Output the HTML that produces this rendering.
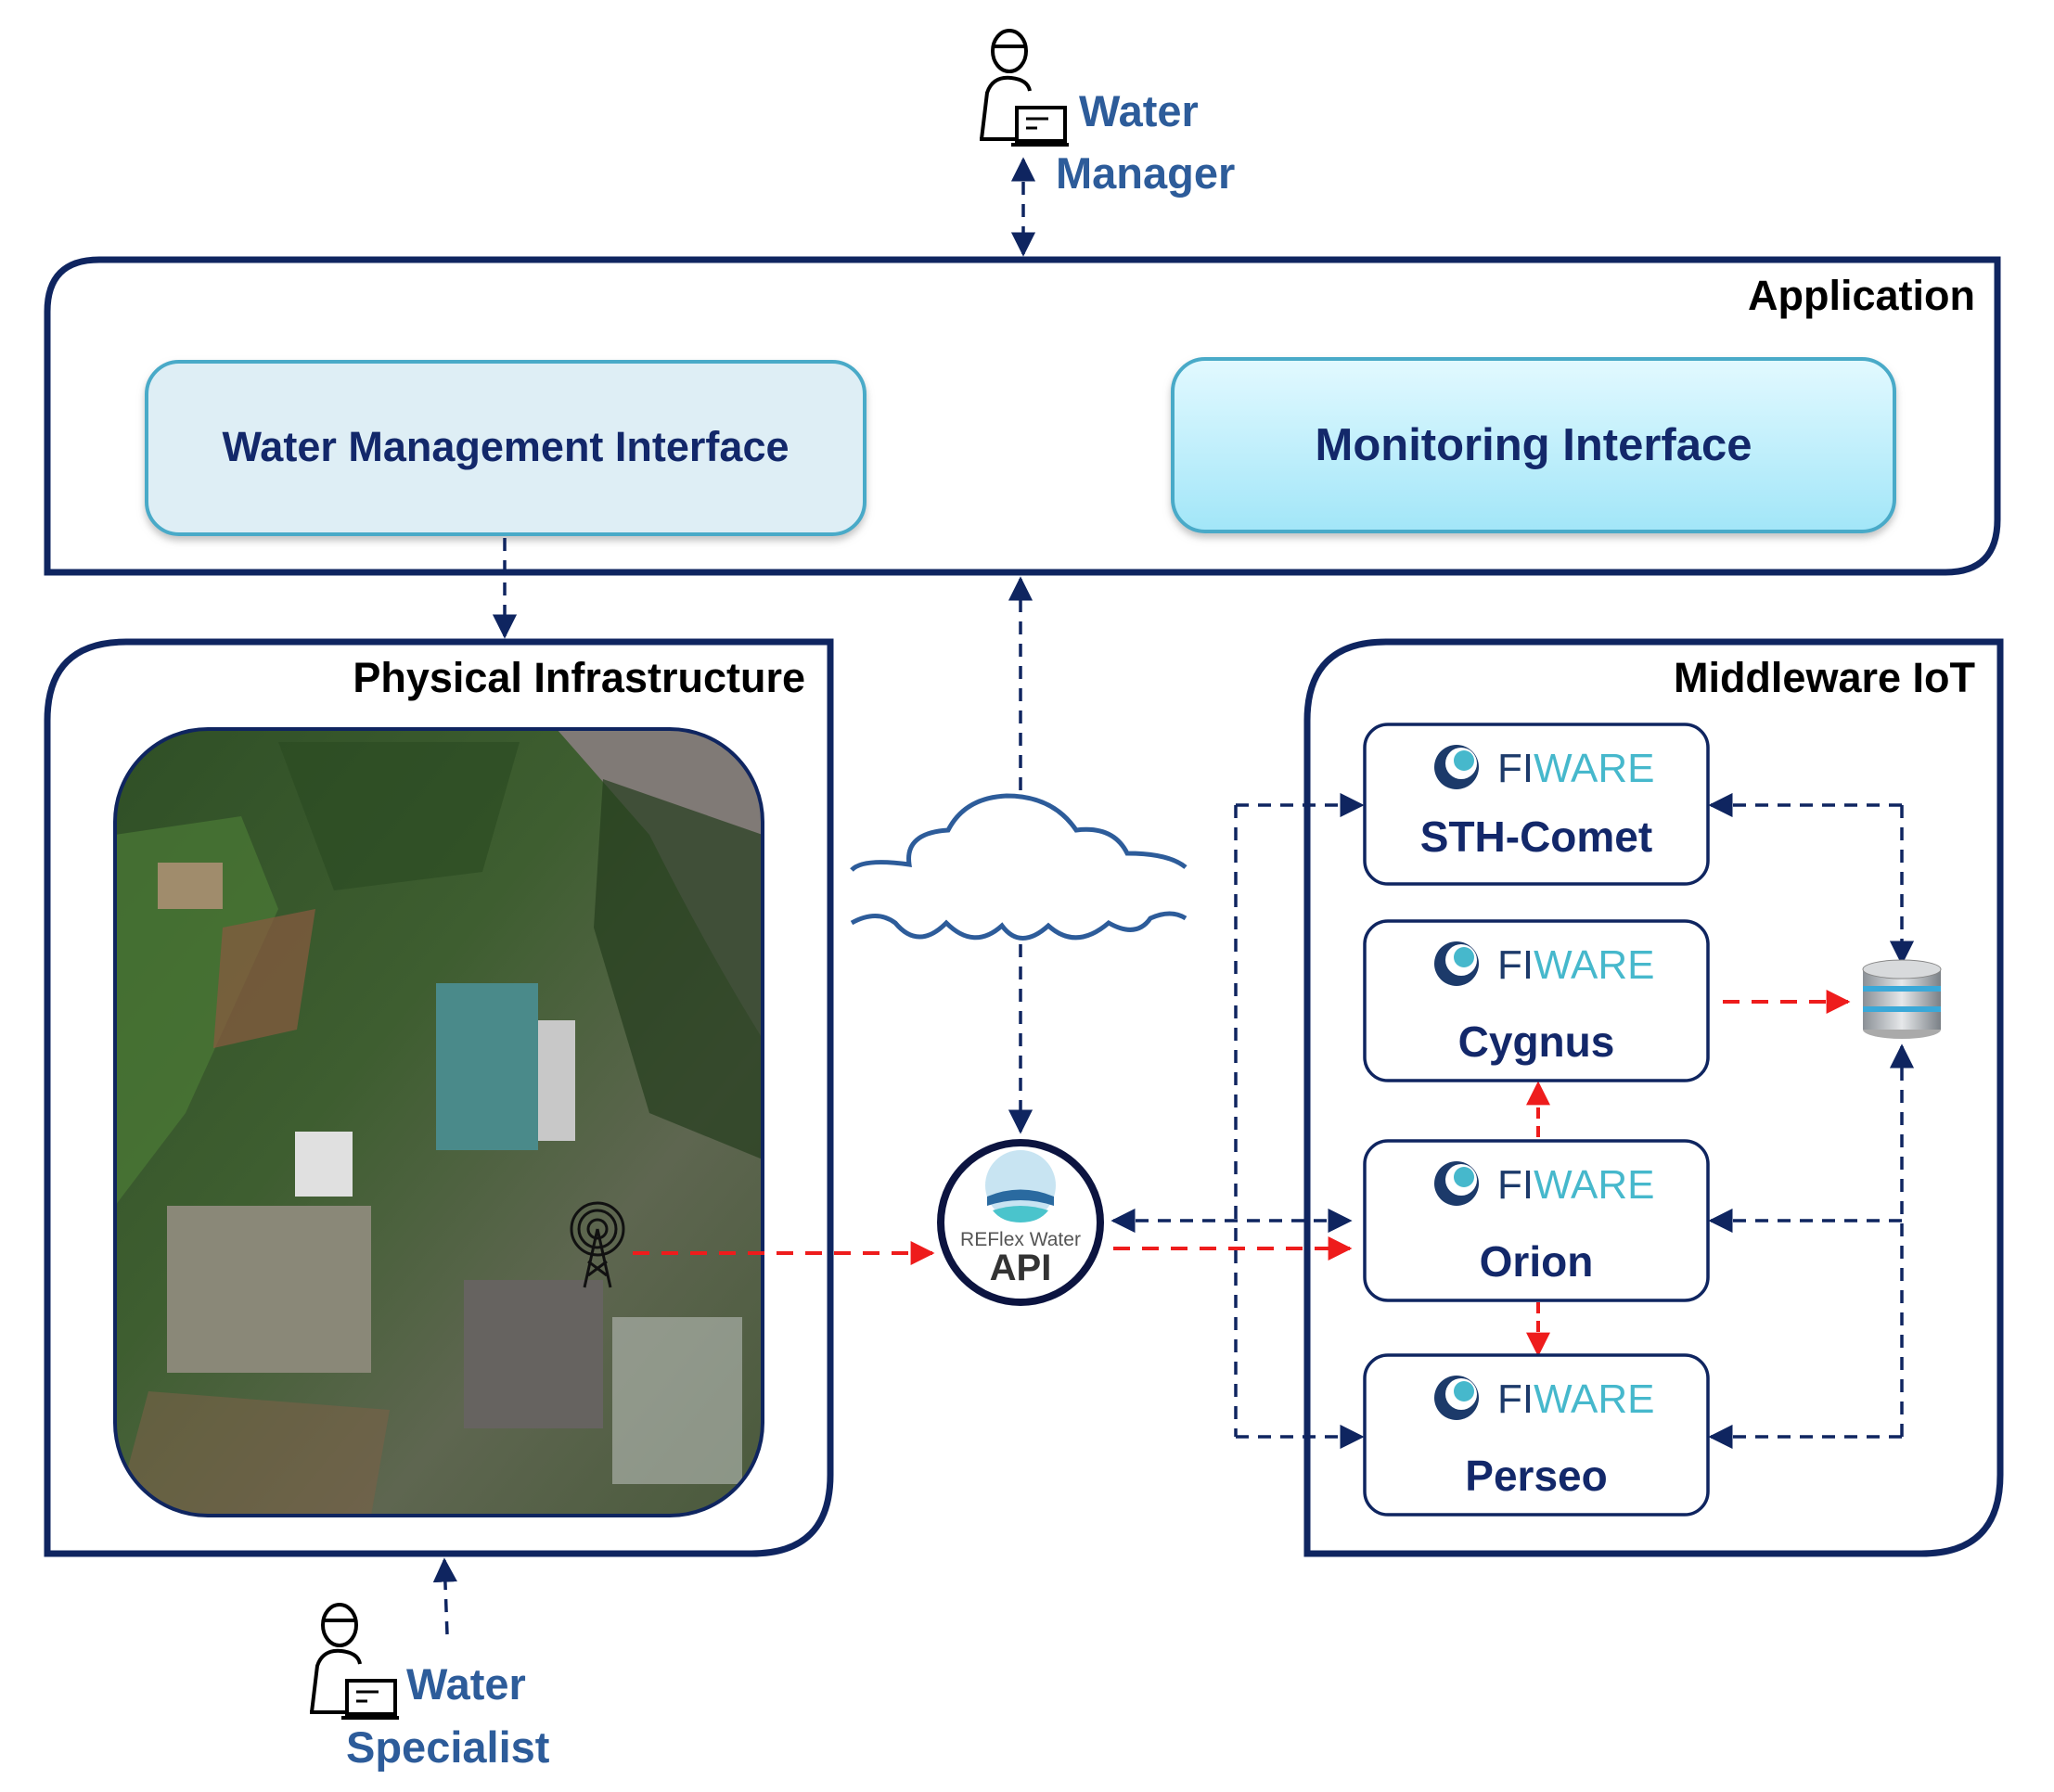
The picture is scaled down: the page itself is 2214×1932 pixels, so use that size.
<!DOCTYPE html>
<html><head><meta charset="utf-8"><style>
html,body{margin:0;padding:0;background:#fff;}
svg{display:block;}
text{font-family:"Liberation Sans",sans-serif;}
</style></head><body>
<svg width="2214" height="1932" viewBox="0 0 2214 1932" xmlns="http://www.w3.org/2000/svg">
<defs>
<marker id="an" viewBox="0 0 10 10" refX="9" refY="5" markerWidth="7.5" markerHeight="7.5" orient="auto-start-reverse"><path d="M0,0 L10,5 L0,10 z" fill="#0f2560"/></marker>
<marker id="ar" viewBox="0 0 10 10" refX="9" refY="5" markerWidth="6.5" markerHeight="6.5" orient="auto-start-reverse"><path d="M0,0 L10,5 L0,10 z" fill="#ee1c1c"/></marker>
<linearGradient id="mi" x1="0" y1="0" x2="0" y2="1"><stop offset="0" stop-color="#e2f9ff"/><stop offset="1" stop-color="#a2e6f8"/></linearGradient>
<linearGradient id="ph" x1="0" y1="0" x2="1" y2="1"><stop offset="0" stop-color="#2f4f26"/><stop offset="0.4" stop-color="#3e5e30"/><stop offset="0.7" stop-color="#5e6650"/><stop offset="1" stop-color="#4a5a3c"/></linearGradient>
<linearGradient id="db" x1="0" y1="0" x2="1" y2="0"><stop offset="0" stop-color="#8a9096"/><stop offset="0.5" stop-color="#e6e8ea"/><stop offset="1" stop-color="#7a8086"/></linearGradient>
<clipPath id="pc"><rect x="124" y="786" width="698" height="848" rx="100"/></clipPath>
<filter id="sh"><feDropShadow dx="0" dy="5" stdDeviation="4" flood-color="#888" flood-opacity="0.5"/></filter>
</defs>

<!-- Water Manager -->
<g stroke="#000" stroke-width="4" fill="none">
<ellipse cx="1088" cy="55" rx="18" ry="22"/>
<line x1="1071" y1="50" x2="1105" y2="50"/>
<path d="M1058 150 L1064 100 Q1070 82 1090 84 Q1108 86 1110 98"/>
<line x1="1056" y1="150" x2="1096" y2="150"/>
<rect x="1096" y="116" width="52" height="36"/>
<line x1="1090" y1="156" x2="1152" y2="156"/>
<line x1="1106" y1="128" x2="1130" y2="128" stroke-width="3"/>
<line x1="1106" y1="138" x2="1118" y2="138" stroke-width="3"/>
</g>
<text x="1163" y="136" font-size="47" font-weight="bold" fill="#2d5c9a">Water</text>
<text x="1138" y="203" font-size="47" font-weight="bold" fill="#2d5c9a">Manager</text>
<line x1="1103" y1="172" x2="1103" y2="274" stroke="#0f2560" stroke-width="3.5" stroke-dasharray="14,10" marker-start="url(#an)" marker-end="url(#an)"/>

<!-- Application -->
<path d="M51 614 L51 336 Q51 280 107 280 L2153 280 L2153 560 Q2153 617 2097 617 L51 617 Z" fill="none" stroke="#0f2560" stroke-width="7"/>
<text x="2129" y="334" font-size="45" font-weight="bold" fill="#000" text-anchor="end">Application</text>
<rect x="158" y="390" width="774" height="186" rx="35" fill="#deeef5" stroke="#4aaac8" stroke-width="4" filter="url(#sh)"/>
<text x="545" y="497" font-size="45" font-weight="bold" fill="#13286a" text-anchor="middle">Water Management Interface</text>
<rect x="1264" y="387" width="778" height="186" rx="35" fill="url(#mi)" stroke="#4aaac8" stroke-width="4" filter="url(#sh)"/>
<text x="1653" y="496" font-size="49" font-weight="bold" fill="#13286a" text-anchor="middle">Monitoring Interface</text>

<line x1="544" y1="580" x2="544" y2="686" stroke="#0f2560" stroke-width="3.5" stroke-dasharray="14,10" marker-end="url(#an)"/>
<line x1="1100" y1="852" x2="1100" y2="624" stroke="#0f2560" stroke-width="3.5" stroke-dasharray="14,10" marker-end="url(#an)"/>
<line x1="1100" y1="1018" x2="1100" y2="1220" stroke="#0f2560" stroke-width="3.5" stroke-dasharray="14,10" marker-end="url(#an)"/>

<!-- Cloud -->
<path d="M918 938 Q930 925 980 932 Q975 898 1022 895 Q1040 860 1085 858 Q1135 858 1160 895 Q1200 890 1215 920 Q1260 920 1278 935 M918 995 Q945 980 965 995 Q990 1025 1020 995 Q1050 1025 1080 998 Q1100 1025 1130 998 Q1160 1025 1195 995 Q1225 1012 1240 990 Q1262 980 1278 990" fill="none" stroke="#2d5c9a" stroke-width="5"/>

<!-- Physical Infrastructure -->
<path d="M51 1675 L51 777 Q51 692 136 692 L895 692 L895 1590 Q895 1675 810 1675 Z" fill="none" stroke="#0f2560" stroke-width="7"/>
<text x="868" y="746" font-size="45" font-weight="bold" fill="#000" text-anchor="end">Physical Infrastructure</text>
<g clip-path="url(#pc)">
<rect x="124" y="786" width="698" height="848" fill="url(#ph)"/>
<path d="M600 786 L822 786 L822 1120 Q760 1020 700 900 Z" fill="#807a76"/>
<path d="M124 900 L260 880 L300 980 L200 1200 L124 1300 Z" fill="#4c7a36" opacity="0.7"/>
<path d="M170 930 L240 930 L240 980 L170 980 Z" fill="#a08c6c"/>
<path d="M240 1000 L340 980 L320 1110 L230 1130 Z" fill="#8a5a40" opacity="0.7"/>
<path d="M470 1060 L580 1060 L580 1240 L470 1240 Z" fill="#4a8a8a"/>
<path d="M580 1100 L620 1100 L620 1230 L580 1230 Z" fill="#c8c8c8"/>
<path d="M318 1220 L380 1220 L380 1290 L318 1290 Z" fill="#e0e0e0"/>
<path d="M180 1300 L400 1300 L400 1480 L180 1480 Z" fill="#8a8878"/>
<path d="M500 1380 L650 1380 L650 1540 L500 1540 Z" fill="#666360"/>
<path d="M660 1420 L800 1420 L800 1600 L660 1600 Z" fill="#b8bcb8" opacity="0.6"/>
<path d="M650 840 L822 900 L822 1250 L700 1200 L640 1000 Z" fill="#253d1e" opacity="0.7"/>
<path d="M300 800 L560 800 L520 940 L360 960 Z" fill="#2a4a22" opacity="0.6"/>
<path d="M160 1500 L420 1520 L400 1634 L124 1634 Z" fill="#7a6048" opacity="0.6"/>
</g>
<rect x="124" y="786" width="698" height="848" rx="100" fill="none" stroke="#0f2560" stroke-width="4"/>
<g stroke="#111" stroke-width="3" fill="none">
<circle cx="644" cy="1325" r="10"/><circle cx="644" cy="1325" r="20"/><circle cx="644" cy="1325" r="28"/>
<path d="M644 1325 L630 1388 M644 1325 L658 1388 M634 1360 L654 1375 M654 1360 L634 1375"/>
</g>
<line x1="682" y1="1351" x2="1005" y2="1351" stroke="#ee1c1c" stroke-width="4" stroke-dasharray="18,13" marker-end="url(#ar)"/>

<!-- API -->
<circle cx="1100" cy="1318" r="86" fill="#fff" stroke="#0c1440" stroke-width="8"/>
<circle cx="1100" cy="1278" r="38" fill="#c8e4f2"/>
<path d="M1064 1290 Q1100 1275 1136 1290 L1136 1300 Q1100 1288 1064 1300 Z" fill="#2a6aa0"/>
<path d="M1070 1305 Q1100 1295 1130 1305 Q1120 1318 1100 1318 Q1080 1318 1070 1305 Z" fill="#4ac4cc"/>
<text x="1100" y="1343" font-size="21" fill="#555" text-anchor="middle">REFlex Water</text>
<text x="1100" y="1380" font-size="40" font-weight="bold" fill="#333" text-anchor="middle">API</text>

<line x1="1200" y1="1316" x2="1455" y2="1316" stroke="#0f2560" stroke-width="3.5" stroke-dasharray="14,10" marker-start="url(#an)" marker-end="url(#an)"/>
<line x1="1200" y1="1346" x2="1455" y2="1346" stroke="#ee1c1c" stroke-width="4" stroke-dasharray="18,13" marker-end="url(#ar)"/>

<!-- Middleware -->
<path d="M1409 1675 L1409 777 Q1409 692 1494 692 L2156 692 L2156 1590 Q2156 1675 2071 1675 Z" fill="none" stroke="#0f2560" stroke-width="7"/>
<text x="2129" y="746" font-size="45" font-weight="bold" fill="#000" text-anchor="end">Middleware IoT</text>

<g stroke="#0f2560" stroke-width="3.5" stroke-dasharray="14,10" fill="none">
<path d="M1332 868 L1332 1549"/>
<path d="M1332 868 L1468 868" marker-end="url(#an)"/>
<path d="M1332 1549 L1468 1549" marker-end="url(#an)"/>
<path d="M2050 868 L1844 868" marker-end="url(#an)"/>
<path d="M2050 868 L2050 1038" marker-end="url(#an)"/>
<path d="M2050 1549 L2050 1128" marker-end="url(#an)"/>
<path d="M2050 1316 L1844 1316" marker-end="url(#an)"/>
<path d="M2050 1549 L1844 1549" marker-end="url(#an)"/>
</g>
<g stroke="#ee1c1c" stroke-width="4" stroke-dasharray="18,13" fill="none">
<path d="M1857 1080 L1992 1080" marker-end="url(#ar)"/>
<path d="M1658 1226 L1658 1168" stroke-dasharray="12,8" marker-end="url(#ar)"/>
<path d="M1658 1404 L1658 1460" stroke-dasharray="12,8" marker-end="url(#ar)"/>
</g>

<!-- Database -->
<g>
<ellipse cx="2050" cy="1110" rx="42" ry="10" fill="#aaa"/>
<rect x="2008" y="1045" width="84" height="65" fill="url(#db)"/>
<ellipse cx="2050" cy="1045" rx="42" ry="10" fill="#d8dadc" stroke="#888" stroke-width="1"/>
<rect x="2008" y="1063" width="84" height="6" fill="#3aa8d8"/>
<rect x="2008" y="1085" width="84" height="6" fill="#3aa8d8"/>
</g>

<!-- FIWARE boxes -->
<g fill="#fff" stroke="#0f2560" stroke-width="3.5">
<rect x="1471" y="781" width="370" height="172" rx="25"/>
<rect x="1471" y="993" width="370" height="172" rx="25"/>
<rect x="1471" y="1230" width="370" height="172" rx="25"/>
<rect x="1471" y="1461" width="370" height="172" rx="25"/>
</g>
<g>
<g transform="translate(0,781)"><circle cx="1570" cy="46" r="24" fill="#1c3a6a"/><circle cx="1575" cy="42" r="17" fill="#fff"/><circle cx="1578" cy="39" r="11" fill="#46b8cc"/><text x="1614" y="62" font-size="44" fill="#1c3a6a">FI<tspan fill="#46b8cc">WARE</tspan></text><text x="1656" y="137" font-size="46" font-weight="bold" fill="#13286a" text-anchor="middle">STH-Comet</text></g>
<g transform="translate(0,993)"><circle cx="1570" cy="46" r="24" fill="#1c3a6a"/><circle cx="1575" cy="42" r="17" fill="#fff"/><circle cx="1578" cy="39" r="11" fill="#46b8cc"/><text x="1614" y="62" font-size="44" fill="#1c3a6a">FI<tspan fill="#46b8cc">WARE</tspan></text><text x="1656" y="146" font-size="46" font-weight="bold" fill="#13286a" text-anchor="middle">Cygnus</text></g>
<g transform="translate(0,1230)"><circle cx="1570" cy="46" r="24" fill="#1c3a6a"/><circle cx="1575" cy="42" r="17" fill="#fff"/><circle cx="1578" cy="39" r="11" fill="#46b8cc"/><text x="1614" y="62" font-size="44" fill="#1c3a6a">FI<tspan fill="#46b8cc">WARE</tspan></text><text x="1656" y="146" font-size="46" font-weight="bold" fill="#13286a" text-anchor="middle">Orion</text></g>
<g transform="translate(0,1461)"><circle cx="1570" cy="46" r="24" fill="#1c3a6a"/><circle cx="1575" cy="42" r="17" fill="#fff"/><circle cx="1578" cy="39" r="11" fill="#46b8cc"/><text x="1614" y="62" font-size="44" fill="#1c3a6a">FI<tspan fill="#46b8cc">WARE</tspan></text><text x="1656" y="146" font-size="46" font-weight="bold" fill="#13286a" text-anchor="middle">Perseo</text></g>
</g>

<!-- Water Specialist -->
<line x1="482" y1="1762" x2="479" y2="1682" stroke="#0f2560" stroke-width="3.5" stroke-dasharray="14,10" marker-end="url(#an)"/>
<g stroke="#000" stroke-width="4" fill="none">
<ellipse cx="366" cy="1752" rx="18" ry="22"/>
<line x1="349" y1="1747" x2="383" y2="1747"/>
<path d="M336 1846 L342 1796 Q348 1778 368 1780 Q386 1782 388 1794"/>
<line x1="334" y1="1846" x2="374" y2="1846"/>
<rect x="374" y="1812" width="52" height="36"/>
<line x1="368" y1="1852" x2="430" y2="1852"/>
<line x1="384" y1="1824" x2="408" y2="1824" stroke-width="3"/>
<line x1="384" y1="1834" x2="396" y2="1834" stroke-width="3"/>
</g>
<text x="438" y="1832" font-size="47" font-weight="bold" fill="#2d5c9a">Water</text>
<text x="373" y="1900" font-size="47" font-weight="bold" fill="#2d5c9a">Specialist</text>
</svg>
</body></html>
